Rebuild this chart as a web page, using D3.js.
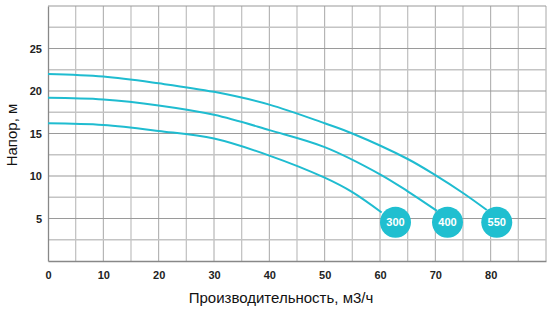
<!DOCTYPE html>
<html>
<head>
<meta charset="utf-8">
<script src="https://cdn.jsdelivr.net/npm/d3@7"></script>
<style>
  body { margin: 0; background: #fff; }
  text { font-family: "Liberation Sans", Arial, sans-serif; }
  .tick text { font-weight: bold; font-size: 11px; fill: #222; }
</style>
</head>
<body>
<div id="chart"></div>
<script>
const svgWidth = 550;
const svgHeight = 311;
const margin = {top: 6, right: 4, bottom: 50, left: 48};
const width = svgWidth - margin.left - margin.right;
const height = svgHeight - margin.top - margin.bottom;

// pump curves: flow (m3/h), head (m)
const curve300 = [[0,16.2],[10,16.0],[20,15.3],[30,14.4],[40,12.4],[50,9.8],[55,8.1],[60.3,5.7]];
const curve400 = [[0,19.2],[10,19.0],[20,18.3],[30,17.2],[40,15.4],[50,13.4],[60,10.2],[65,8.2],[70.3,5.9]];
const curve550 = [[0,22.0],[10,21.7],[20,20.9],[30,19.9],[40,18.4],[50,16.2],[55,15.0],[65,12.0],[70,10.1],[75,8.0],[79.3,6.0]];
const models = ["300", "400", "550"];
const badgeX = [62.8, 72.2, 81.1];
const badgeY = 4.55;
const xTicks = [0,10,20,30,40,50,60,70,80];
const yTicks = [5,10,15,20,25];

const svg = d3.select("#chart").append("svg")
    .attr("width", svgWidth)
    .attr("height", svgHeight)
  .append("g")
    .attr("transform", "translate(" + margin.left + "," + margin.top + ")");

const xscale = d3.scaleLinear().domain([0, 90]).range([0, width]);
const yscale = d3.scaleLinear().domain([0, 30]).range([height, 0]);

// grid
svg.append("g").selectAll("line")
  .data(d3.range(5, 91, 5))
  .join("line")
    .attr("x1", d => xscale(d)).attr("x2", d => xscale(d))
    .attr("y1", 0).attr("y2", height)
    .attr("stroke", d => d % 10 === 0 ? "#a8a8a8" : "#c4c4c4")
    .attr("stroke-width", d => d % 10 === 0 ? 1 : 1.3);

svg.append("g").selectAll("line")
  .data(d3.range(2.5, 30.1, 2.5))
  .join("line")
    .attr("x1", 0).attr("x2", width)
    .attr("y1", d => yscale(d)).attr("y2", d => yscale(d))
    .attr("stroke", d => d % 5 === 0 ? "#9a9a9a" : "#c4c4c4")
    .attr("stroke-width", d => d % 5 === 0 ? 1.2 : 1.3);

// axes
const xaxis = d3.axisBottom(xscale).tickValues(xTicks).tickSize(0).tickPadding(10);
const yaxis = d3.axisLeft(yscale).tickValues(yTicks).tickSize(0).tickPadding(6);

svg.append("g")
  .attr("transform", "translate(0," + height + ")")
  .call(xaxis)
  .call(g => g.select(".domain").attr("stroke", "#888").attr("stroke-width", 1.3));

svg.append("g")
  .call(yaxis)
  .call(g => g.select(".domain").attr("stroke", "#888").attr("stroke-width", 1.3));

svg.append("text")
  .attr("transform", "translate(-31," + (height / 2 + 1.5) + ")rotate(-90)")
  .attr("text-anchor", "middle")
  .attr("font-size", 15)
  .attr("fill", "#111")
  .text("Напор, м");

svg.append("text")
  .attr("x", width / 2 - 16)
  .attr("y", height + 42)
  .attr("text-anchor", "middle")
  .attr("font-size", 15)
  .attr("fill", "#111")
  .text("Производительность, м3/ч");

// curves
const line = d3.line()
  .x(d => xscale(d[0]))
  .y(d => yscale(d[1]))
  .curve(d3.curveCatmullRom.alpha(0.5));

[curve300, curve400, curve550].forEach(function(c) {
  svg.append("path")
    .datum(c)
    .attr("fill", "none")
    .attr("stroke", "#1fbcd0")
    .attr("stroke-width", 2)
    .attr("d", line);
});

// badges
models.forEach(function(m, i) {
  svg.append("circle")
    .attr("cx", xscale(badgeX[i]))
    .attr("cy", yscale(badgeY))
    .attr("r", 15.5)
    .attr("fill", "#20bfd0");
  svg.append("text")
    .attr("x", xscale(badgeX[i]))
    .attr("y", yscale(badgeY) + 4)
    .attr("text-anchor", "middle")
    .attr("font-size", 11)
    .attr("font-weight", "bold")
    .attr("fill", "#fff")
    .text(m);
});
</script>
</body>
</html>
